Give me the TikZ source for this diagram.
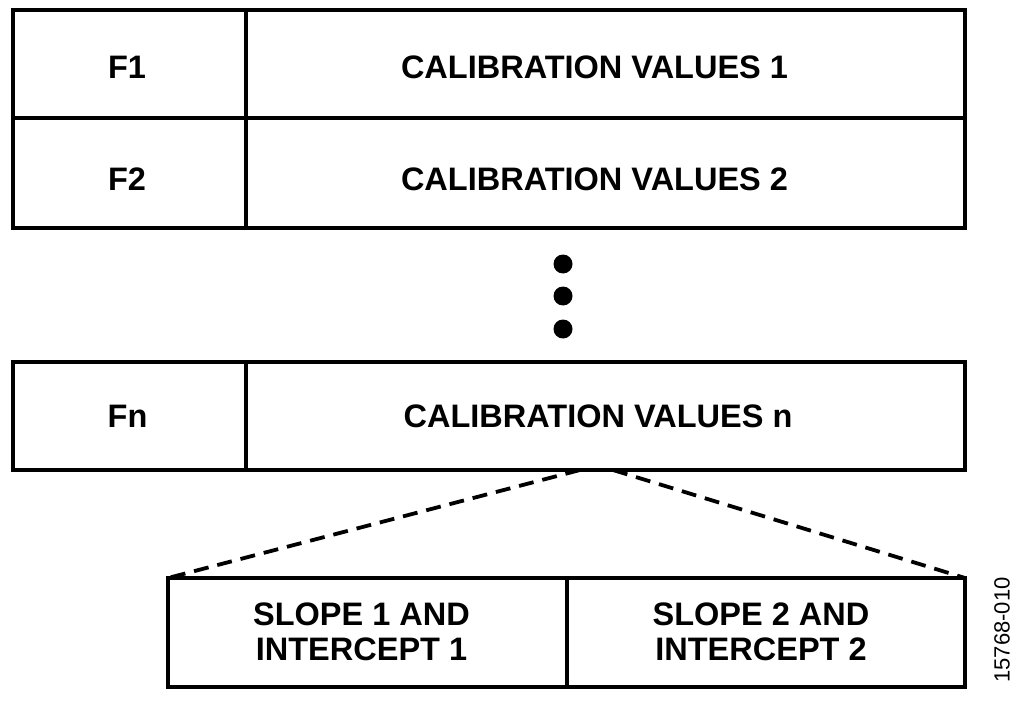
\documentclass[tikz,border=0pt]{standalone}
\usepackage{fontspec}
\setmainfont{Liberation Sans}
\begin{document}
\begin{tikzpicture}[x=1pt,y=-1pt,
  cell/.style={draw,line width=3.5pt,rectangle,inner sep=0pt,outer sep=0pt},
  lbl/.style={font=\fontsize{32.5}{35}\selectfont\bfseries,align=center,inner sep=0pt},
  dotnode/.style={circle,fill=black,inner sep=0pt,minimum size=19pt},
  dashline/.style={line width=3.8pt,dash pattern=on 15pt off 9pt}]
\useasboundingbox (0,0) rectangle (1024,703);
% top table
\node[cell,minimum width=233pt,minimum height=108pt] (f1) at (129.5,64) {};
\node[cell,minimum width=719pt,minimum height=108pt] (c1) at (605.5,64) {};
\node[cell,minimum width=233pt,minimum height=110pt] (f2) at (129.5,173) {};
\node[cell,minimum width=719pt,minimum height=110pt] (c2) at (605.5,173) {};
\node[lbl] (f1t) at (127,67) {F1};
\node[lbl] (c1t) at (594.5,67) {CALIBRATION VALUES 1};
\node[lbl] (f2t) at (127,179) {F2};
\node[lbl] (c2t) at (594.5,179) {CALIBRATION VALUES 2};
% dots
\node[dotnode] (d1) at (563,264) {};
\node[dotnode] (d2) at (563,296) {};
\node[dotnode] (d3) at (563,329) {};
% Fn row
\node[cell,minimum width=233pt,minimum height=108pt] (fn) at (129.5,416) {};
\node[cell,minimum width=719pt,minimum height=108pt] (cn) at (605.5,416) {};
\node[lbl] (fnt) at (127.5,416) {Fn};
\node[lbl] (cnt) at (598,416) {CALIBRATION VALUES n};
% bottom table
\node[cell,minimum width=399pt,minimum height=109pt] (s1) at (367.5,632.5) {};
\node[cell,minimum width=398pt,minimum height=109pt] (s2) at (766,632.5) {};
\node[lbl] (s1t) at (361.5,632) {SLOPE 1 AND\\INTERCEPT 1};
\node[lbl] (s2t) at (761,632) {SLOPE 2 AND\\INTERCEPT 2};
% dashed connectors
\coordinate (dl) at (580,470);
\coordinate (dr) at (613,470);
\draw[dashline] (dl) -- (s1.north west);
\draw[dashline] (dr) -- (s2.north east);
% figure id
\node[rotate=90,font=\fontsize{22}{24}\selectfont] (id) at (1002,630) {15768-010};
\end{tikzpicture}
\end{document}
